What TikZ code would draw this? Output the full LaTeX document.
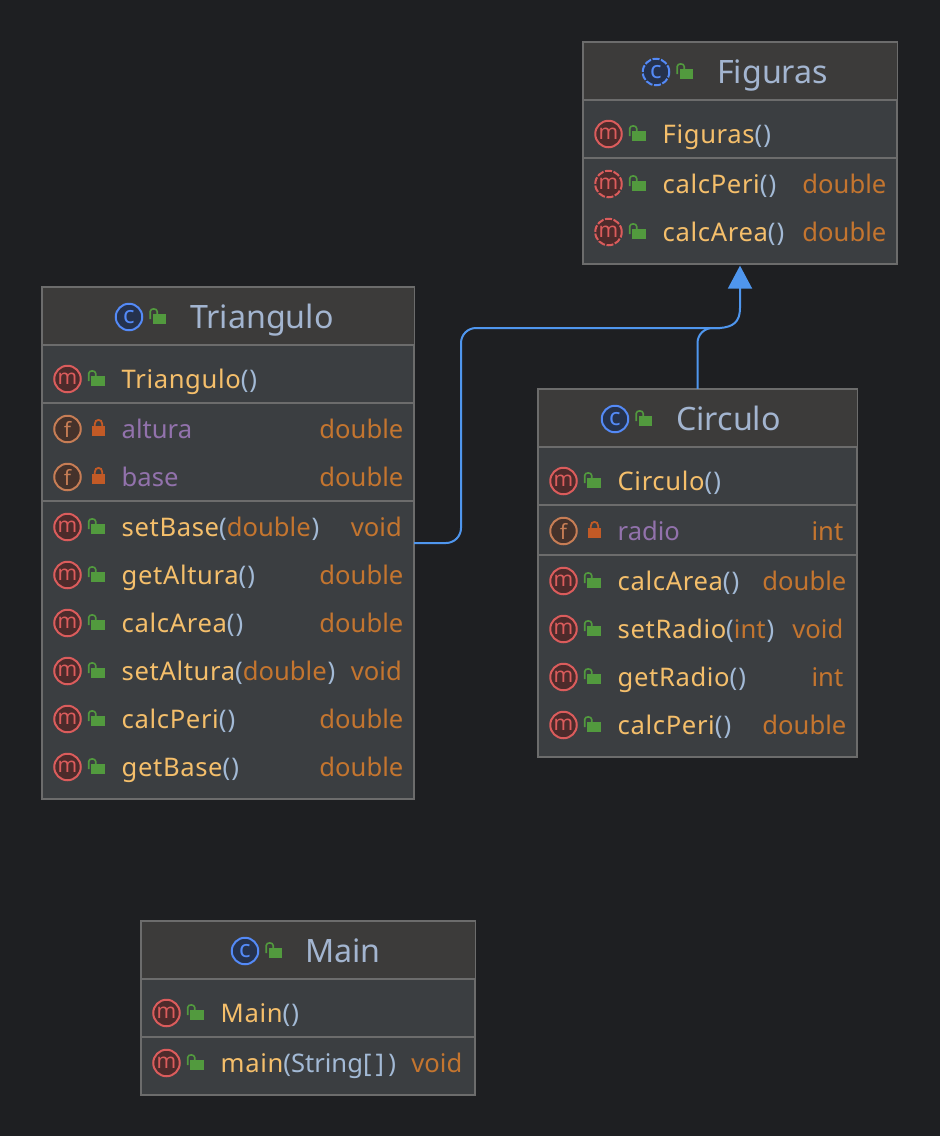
\documentclass[tikz,border=0pt]{standalone}
\usepackage{fontspec}
\setmainfont{Noto Sans}
\newfontfamily\namefont[LetterSpace=2.5]{Noto Sans}
\usetikzlibrary{arrows.meta}

\definecolor{bgcol}{HTML}{1E1F22}
\definecolor{bodycol}{HTML}{3B3E41}
\definecolor{headcol}{HTML}{3C3B3A}
\definecolor{linecol}{HTML}{6C6C6C}
\definecolor{titlecol}{HTML}{A3B5D0}
\definecolor{namecol}{HTML}{F5BF6B}
\definecolor{parcol}{HTML}{A3BAD6}
\definecolor{typecol}{HTML}{C4752F}
\definecolor{fieldcol}{HTML}{9272AC}
\definecolor{mline}{HTML}{DB5C5C}
\definecolor{mfill}{HTML}{4D2B2B}
\definecolor{fline}{HTML}{C77D55}
\definecolor{ffill}{HTML}{45322B}
\definecolor{cline}{HTML}{548AF7}
\definecolor{cfill}{HTML}{25324D}
\definecolor{opencol}{HTML}{529A3E}
\definecolor{shutcol}{HTML}{C25A26}
\definecolor{conncol}{HTML}{4F96EE}

\newcommand{\rowfont}{\fontsize{25.6}{30}\selectfont}
\newcommand{\pcol}[1]{{\color{parcol}\bfseries #1}}
\newcommand{\mcall}[2]{{\color{namecol}\namefont #1}\pcol{(}{\color{typecol}#2}\hspace{1pt}\pcol{)}}

\tikzset{
  classbox/.style={draw=linecol,fill=bodycol,line width=1.3pt,inner sep=0pt},
  sepline/.style={draw=linecol,line width=1.5pt},
  icon/.style={circle,inner sep=0pt,minimum size=26.5pt,line width=2pt,font=\fontsize{21}{21}\selectfont},
  iconm/.style={icon,draw=mline,fill=mfill,text=mline},
  icond/.style={iconm,dash pattern=on 7pt off 1.6pt},
  iconf/.style={icon,draw=fline,fill=ffill,text=fline},
  iconc/.style={icon,draw=cline,fill=cfill,text=cline,font=\fontsize{24}{24}\selectfont},
  iconcd/.style={iconc,dash pattern=on 7pt off 1.6pt},
  rowtext/.style={anchor=base west,inner sep=0pt,font=\rowfont},
  rowtype/.style={anchor=base east,inner sep=0pt,font=\rowfont,text=typecol},
  title/.style={anchor=base west,inner sep=0pt,text=titlecol,font=\fontsize{32.2}{38}\selectfont},
  conn/.style={draw=conncol,line width=2pt,rounded corners=15pt},
  lockopen/.pic={
    \fill [opencol] (-5.3,-2.7) rectangle (8,7);
    \draw [opencol,line width=1.6pt] (-7.8,2) -- (-7.8,-5.5)
      .. controls (-7.8,-9) and (-0.8,-9) .. (-0.8,-5.5) -- (-0.8,-3);
  },
  lockshut/.pic={
    \fill [shutcol] (-6.3,-3) rectangle (6.3,7);
    \draw [shutcol,line width=1.8pt] (-3.7,-3) -- (-3.7,-5)
      .. controls (-3.7,-10.5) and (3.7,-10.5) .. (3.7,-5) -- (3.7,-3);
  },
}

% id, left, top, right, bottom, header bottom
\newcommand{\classbox}[6]{
  \node (#1) [classbox,minimum width={#4-#2-1},minimum height={#5-#3-1}]
    at ({(#2+#4)/2},{(#3+#5)/2}) {};
  \fill [headcol] (#2,#3) rectangle (#4,#6);
  \draw [sepline] (#2,#6) -- (#4,#6);
  \draw [classbox,fill=none] (#1.south west) rectangle (#1.north east);
}
% id, left, right, row, y, kind, text, type
\newcommand{\umlrow}[8]{
  \node (#1-icon#4) [icon#6] at (#2+25.5,#5) {\if#6f f\else m\fi};
  \if#6f
    \pic at (#2+56.5,#5) {lockshut};
  \else
    \pic at (#2+54.5,#5) {lockopen};
  \fi
  \node (#1-text#4) [rowtext] at (#2+79.5,#5+9) {#7};
  \def\typetxt{#8}
  \ifx\typetxt\empty\else
    \node (#1-type#4) [rowtype] at (#3-10.5,#5+9) {#8};
  \fi
}
% id, icon x, y, icon style, title x, title
\newcommand{\umltitle}[6]{
  \node (#1-icon) [#4] at (#2,#3) {c};
  \pic at (#2+29,#3) {lockopen};
  \node (#1-title) [title] at (#5,#3+11) {#6};
}

\begin{document}
\begin{tikzpicture}[x=1pt,y=-1pt]
\fill [bgcol] (0,0) rectangle (940,1136);
\useasboundingbox (0,0) rectangle (940,1136);

% Figuras
\classbox{fig}{583}{42}{897}{264}{100}
\draw [sepline] (583,158) -- (897,158);
\umltitle{fig}{656}{72}{iconcd}{717}{Figuras}
\foreach \r/\y/\k/\txt/\ty in {
  1/134/m/{\mcall{Figuras}{}}/{},
  2/184/d/{\mcall{calcPeri}{}}/double,
  3/232/d/{\mcall{calcArea}{}}/double}
  \umlrow{fig}{583}{897}{\r}{\y}{\k}{\txt}{\ty};

% Triangulo
\classbox{tri}{42}{287}{414}{799}{345}
\foreach \y in {403,501} \draw [sepline] (42,\y) -- (414,\y);
\umltitle{tri}{129}{317}{iconc}{190}{Triangulo}
\foreach \r/\y/\k/\txt/\ty in {
  1/379/m/{\mcall{Triangulo}{}}/{},
  2/429/f/{\color{fieldcol}altura}/double,
  3/477/f/{\color{fieldcol}base}/double,
  4/527/m/{\mcall{setBase}{double}}/{void\kern1.5pt},
  5/575/m/{\mcall{getAltura}{}}/double,
  6/623/m/{\mcall{calcArea}{}}/double,
  7/671/m/{\mcall{setAltura}{double}}/{void\kern1.5pt},
  8/719/m/{\mcall{calcPeri}{}}/double,
  9/767/m/{\mcall{getBase}{}}/double}
  \umlrow{tri}{42}{414}{\r}{\y}{\k}{\txt}{\ty};

% Circulo
\classbox{cir}{538}{389}{857}{757}{447}
\foreach \y in {505,555} \draw [sepline] (538,\y) -- (857,\y);
\umltitle{cir}{615}{419}{iconc}{676}{Circulo}
\foreach \r/\y/\k/\txt/\ty in {
  1/481/m/{\mcall{Circulo}{}}/{},
  2/531/f/{\color{fieldcol}radio}/{int\kern3pt},
  3/581/m/{\mcall{calcArea}{}}/double,
  4/629/m/{\mcall{setRadio}{int}}/{void\kern3pt},
  5/677/m/{\mcall{getRadio}{}}/{int\kern3pt},
  6/725/m/{\mcall{calcPeri}{}}/double}
  \umlrow{cir}{538}{857}{\r}{\y}{\k}{\txt}{\ty};

% Main
\classbox{mai}{141}{921}{475}{1095}{979}
\draw [sepline] (141,1037) -- (475,1037);
\umltitle{mai}{245}{951}{iconc}{305}{Main}
\foreach \r/\y/\k/\txt/\ty in {
  1/1013/m/{\mcall{Main}{}}/{},
  2/1063/m/{{\color{namecol}\namefont main}\pcol{(}{\color{parcol}String}\pcol{[\,]\,)}}/{void\kern2pt}}
  \umlrow{mai}{141}{475}{\r}{\y}{\k}{\txt}{\ty};

% inheritance
\coordinate (corner) at (461,328);
\coordinate (join) at (720,328);
\draw [conn] (tri.east) -| (corner) -- (join);
\draw [conn] (cir.north) |- (join);
\draw [draw=conncol,line width=2pt,-{Triangle[length=23pt,width=24pt]},shorten >=1.5pt] (join)
  .. controls (733,327) and (740,322) .. (740,308) -- (fig.south);
\end{tikzpicture}
\end{document}
